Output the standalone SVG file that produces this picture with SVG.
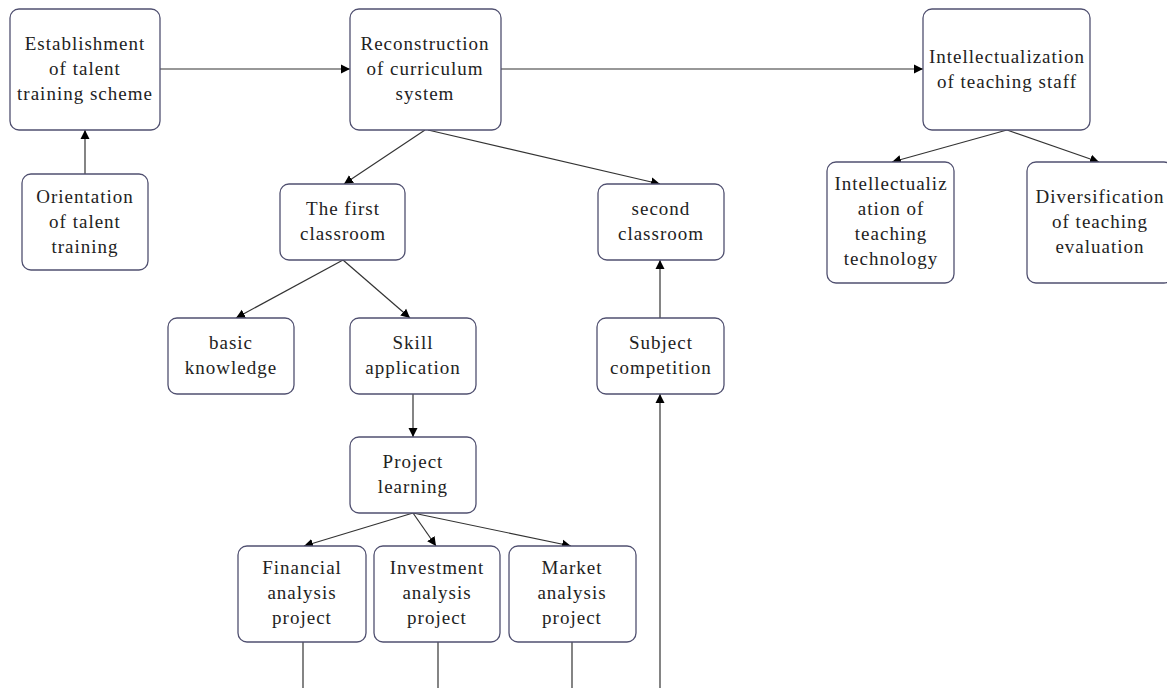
<svg xmlns="http://www.w3.org/2000/svg" width="1167" height="688" viewBox="0 0 1167 688">
<style>
.box{fill:#ffffff;stroke:#505070;stroke-width:1.3}
.t{font-family:"Liberation Serif","Times New Roman",serif;font-size:19px;letter-spacing:1px;fill:#222222;text-anchor:middle}
.c{fill:none;stroke:#333333;stroke-width:1.2}
</style>
<defs>
<marker id="ah" markerUnits="userSpaceOnUse" markerWidth="10" markerHeight="10" refX="9" refY="4.5" orient="auto" viewBox="0 0 10 9">
<path d="M0,0 L9,4.5 L0,9 z" fill="#000000"/>
</marker>
</defs>
<rect width="1167" height="688" fill="#ffffff"/>
<g id="connectors">
<line class="c" x1="160" y1="69" x2="350" y2="69" marker-end="url(#ah)"/>
<line class="c" x1="85" y1="174" x2="85" y2="130" marker-end="url(#ah)"/>
<line class="c" x1="501" y1="69" x2="923" y2="69" marker-end="url(#ah)"/>
<line class="c" x1="425" y1="130" x2="344" y2="184" marker-end="url(#ah)"/>
<line class="c" x1="428" y1="130" x2="660" y2="184" marker-end="url(#ah)"/>
<line class="c" x1="1007" y1="130" x2="892" y2="162" marker-end="url(#ah)"/>
<line class="c" x1="1007" y1="130" x2="1099" y2="162" marker-end="url(#ah)"/>
<line class="c" x1="343" y1="260" x2="236" y2="318" marker-end="url(#ah)"/>
<line class="c" x1="343" y1="260" x2="410" y2="318" marker-end="url(#ah)"/>
<line class="c" x1="413" y1="394" x2="413" y2="437" marker-end="url(#ah)"/>
<line class="c" x1="413" y1="513" x2="304" y2="546" marker-end="url(#ah)"/>
<line class="c" x1="413" y1="513" x2="436" y2="546" marker-end="url(#ah)"/>
<line class="c" x1="413" y1="513" x2="571" y2="546" marker-end="url(#ah)"/>
<line class="c" x1="660" y1="318" x2="660" y2="260" marker-end="url(#ah)"/>
<line class="c" x1="660" y1="688" x2="660" y2="394" marker-end="url(#ah)"/>
<line class="c" x1="303" y1="642" x2="303" y2="688"/>
<line class="c" x1="438" y1="642" x2="438" y2="688"/>
<line class="c" x1="572" y1="642" x2="572" y2="688"/>
</g>
<g id="n-establishment">
<rect class="box" x="10" y="9" width="150" height="121" rx="9"/>
<text class="t" x="85" y="50">Establishment</text>
<text class="t" x="85" y="75">of talent</text>
<text class="t" x="85" y="100">training scheme</text>
</g>
<g id="n-orientation">
<rect class="box" x="22" y="174" width="126" height="96" rx="9"/>
<text class="t" x="85" y="203">Orientation</text>
<text class="t" x="85" y="228">of talent</text>
<text class="t" x="85" y="253">training</text>
</g>
<g id="n-reconstruction">
<rect class="box" x="350" y="9" width="151" height="121" rx="9"/>
<text class="t" x="425" y="50">Reconstruction</text>
<text class="t" x="425" y="75">of curriculum</text>
<text class="t" x="425" y="100">system</text>
</g>
<g id="n-staff">
<rect class="box" x="923" y="9" width="167" height="121" rx="9"/>
<text class="t" x="1007" y="63">Intellectualization</text>
<text class="t" x="1007" y="88">of teaching staff</text>
</g>
<g id="n-first">
<rect class="box" x="280" y="184" width="125" height="76" rx="9"/>
<text class="t" x="343" y="215">The first</text>
<text class="t" x="343" y="240">classroom</text>
</g>
<g id="n-second">
<rect class="box" x="598" y="184" width="126" height="76" rx="9"/>
<text class="t" x="661" y="215">second</text>
<text class="t" x="661" y="240">classroom</text>
</g>
<g id="n-technology">
<rect class="box" x="827" y="162" width="127" height="121" rx="9"/>
<text class="t" x="891" y="190">Intellectualiz</text>
<text class="t" x="891" y="215">ation of</text>
<text class="t" x="891" y="240">teaching</text>
<text class="t" x="891" y="265">technology</text>
</g>
<g id="n-evaluation">
<rect class="box" x="1027" y="162" width="146" height="121" rx="9"/>
<text class="t" x="1100" y="203">Diversification</text>
<text class="t" x="1100" y="228">of teaching</text>
<text class="t" x="1100" y="253">evaluation</text>
</g>
<g id="n-basic">
<rect class="box" x="168" y="318" width="126" height="76" rx="9"/>
<text class="t" x="231" y="349">basic</text>
<text class="t" x="231" y="374">knowledge</text>
</g>
<g id="n-skill">
<rect class="box" x="350" y="318" width="126" height="76" rx="9"/>
<text class="t" x="413" y="349">Skill</text>
<text class="t" x="413" y="374">application</text>
</g>
<g id="n-subject">
<rect class="box" x="597" y="318" width="127" height="76" rx="9"/>
<text class="t" x="661" y="349">Subject</text>
<text class="t" x="661" y="374">competition</text>
</g>
<g id="n-project">
<rect class="box" x="350" y="437" width="126" height="76" rx="9"/>
<text class="t" x="413" y="468">Project</text>
<text class="t" x="413" y="493">learning</text>
</g>
<g id="n-financial">
<rect class="box" x="238" y="546" width="128" height="96" rx="9"/>
<text class="t" x="302" y="574">Financial</text>
<text class="t" x="302" y="599">analysis</text>
<text class="t" x="302" y="624">project</text>
</g>
<g id="n-investment">
<rect class="box" x="374" y="546" width="126" height="96" rx="9"/>
<text class="t" x="437" y="574">Investment</text>
<text class="t" x="437" y="599">analysis</text>
<text class="t" x="437" y="624">project</text>
</g>
<g id="n-market">
<rect class="box" x="509" y="546" width="127" height="96" rx="9"/>
<text class="t" x="572" y="574">Market</text>
<text class="t" x="572" y="599">analysis</text>
<text class="t" x="572" y="624">project</text>
</g>
</svg>
